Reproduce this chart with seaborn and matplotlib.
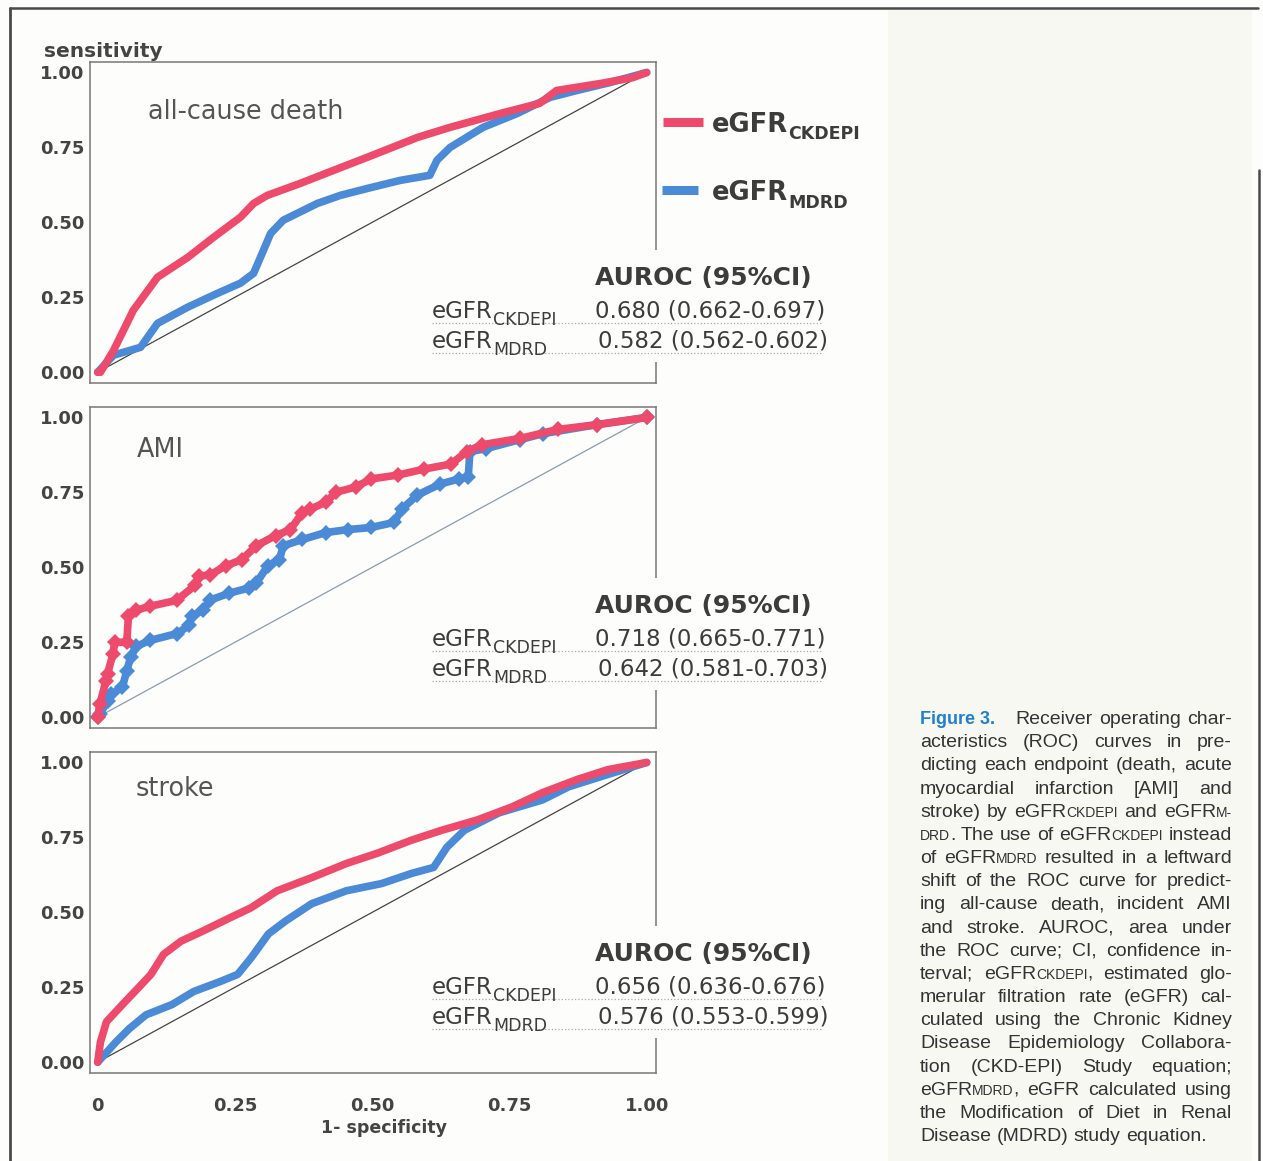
import re

import matplotlib
matplotlib.use("Agg")
import matplotlib.pyplot as plt
import pandas as pd
import seaborn as sns
from matplotlib.lines import Line2D
from matplotlib.patches import Rectangle

W, H = 1263, 1161

RED = "#ee4a6b"
BLUE = "#4a8ad6"
INK = "#3c3c3c"
PAPER = "#fdfdfb"
CREAM = "#f8f8f2"

PANELS = ["all-cause death", "AMI", "stroke"]
TICKS = [0, 0.25, 0.50, 0.75, 1.00]
Y_LABELS = ["0.00", "0.25", "0.50", "0.75", "1.00"]
X_LABELS = ["0", "0.25", "0.50", "0.75", "1.00"]

AUROC_CKDEPI = ["0.680 (0.662-0.697)", "0.718 (0.665-0.771)", "0.656 (0.636-0.676)"]
AUROC_MDRD = ["0.582 (0.562-0.602)", "0.642 (0.581-0.703)", "0.576 (0.553-0.599)"]

# ROC points (1 - specificity, sensitivity)
death_ckd_x = [0, .005, .029, .065, .109, .164, .211, .26, .284, .309, .369, .429, .491,
               .582, .642, .733, .805, .836, .915, .975, 1.0]
death_ckd_y = [0, 0, .073, .207, .317, .383, .45, .517, .563, .59, .63, .673, .717,
               .783, .817, .863, .897, .94, .963, .983, 1.0]
death_mdrd_x = [0, .029, .078, .109, .164, .218, .26, .284, .302, .315, .338, .4, .442,
                .491, .551, .605, .618, .642, .702, .764, .824, .873, .93, 1.0]
death_mdrd_y = [0, .057, .083, .163, .217, .263, .297, .33, .407, .463, .507, .563, .59,
                .613, .64, .657, .707, .75, .817, .863, .917, .94, .965, 1.0]

ami_ckd_x = [0, .004, .015, .018, .028, .031, .053, .056, .07, .095, .144, .178, .185,
             .205, .233, .262, .289, .324, .351, .373, .387, .415, .435, .47, .498, .547,
             .595, .644, .672, .7, .769, .838, .909, 1.0]
ami_ckd_y = [0, .044, .121, .145, .212, .25, .25, .337, .357, .37, .39, .441, .471,
             .475, .505, .525, .572, .606, .626, .683, .694, .717, .751, .768, .795, .808,
             .828, .845, .886, .909, .93, .96, .976, 1.0]
ami_mdrd_x = [0, .004, .018, .025, .045, .053, .06, .07, .095, .144, .167, .171, .192,
              .205, .24, .275, .289, .31, .331, .338, .373, .415, .456, .498, .54, .554,
              .582, .624, .658, .675, .678, .707, .769, .811, .909, 1.0]
ami_mdrd_y = [0, .01, .054, .077, .1, .155, .2, .236, .256, .279, .306, .337, .357,
              .391, .414, .431, .448, .505, .525, .572, .593, .616, .626, .633, .65, .694,
              .741, .778, .795, .801, .886, .896, .926, .946, .976, 1.0]

stroke_ckd_x = [0, .005, .016, .049, .073, .097, .12, .152, .192, .24, .279, .327, .39,
                .453, .509, .572, .627, .691, .755, .81, .873, .929, 1.0]
stroke_ckd_y = [0, .067, .135, .2, .246, .293, .36, .404, .438, .481, .515, .572, .616,
                .663, .697, .741, .774, .808, .852, .899, .943, .976, 1.0]
stroke_mdrd_x = [0, .033, .057, .088, .135, .175, .223, .255, .279, .311, .342, .39, .453,
                 .517, .572, .612, .636, .668, .731, .81, .858, .929, 1.0]
stroke_mdrd_y = [0, .067, .111, .158, .192, .236, .269, .293, .347, .428, .471, .529, .572,
                 .596, .63, .65, .717, .774, .832, .875, .919, .96, 1.0]

CURVES = [
    (death_ckd_x, death_ckd_y, death_mdrd_x, death_mdrd_y),
    (ami_ckd_x, ami_ckd_y, ami_mdrd_x, ami_mdrd_y),
    (stroke_ckd_x, stroke_ckd_y, stroke_mdrd_x, stroke_mdrd_y),
]

CAPTION = [
    "Receiver operating char-",
    "acteristics (ROC) curves in pre-",
    "dicting each endpoint (death, acute",
    "myocardial infarction [AMI] and",
    "stroke) by eGFR{CKDEPI} and eGFR{M-}",
    "{DRD}. The use of eGFR{CKDEPI} instead",
    "of eGFR{MDRD} resulted in a leftward",
    "shift of the ROC curve for predict-",
    "ing all-cause death, incident AMI",
    "and stroke. AUROC, area under",
    "the ROC curve; CI, confidence in-",
    "terval; eGFR{CKDEPI}, estimated glo-",
    "merular filtration rate (eGFR) cal-",
    "culated using the Chronic Kidney",
    "Disease Epidemiology Collabora-",
    "tion (CKD-EPI) Study equation;",
    "eGFR{MDRD}, eGFR calculated using",
    "the Modification of Diet in Renal",
    "Disease (MDRD) study equation.",
]

sns.set_style("white")
plt.rcParams["font.family"] = ["DejaVu Sans"]

fig = plt.figure(figsize=(W / 100, H / 100), dpi=100, facecolor=PAPER)
r = fig.canvas.get_renderer()


def fy(y):
    return 1 - y / H


def put(x, y, s, **kw):
    kw.setdefault("va", "baseline")
    return fig.text(x / W, fy(y), s, **kw)


def sub_label(x, y, main, sub, size, subsize, drop, weight):
    t = put(x, y, main, fontsize=size, weight=weight, color=INK)
    w = t.get_window_extent(r).width
    put(x + w, y + drop, sub, fontsize=subsize, weight=weight, color=INK)


# page furniture
fig.add_artist(Rectangle((888 / W, 0), 364 / W, fy(10), transform=fig.transFigure,
                         color=CREAM, lw=0, zorder=-1))
fig.add_artist(Line2D([10 / W, 10 / W], [fy(8), 0], transform=fig.transFigure, color="#4a4a4a", lw=2))
fig.add_artist(Line2D([10 / W, 1258 / W], [fy(8), fy(8)], transform=fig.transFigure, color="#4a4a4a", lw=1.8))
fig.add_artist(Line2D([1259 / W, 1259 / W], [fy(170), 0], transform=fig.transFigure, color="#4a4a4a", lw=1.8))

tops = [62, 407, 752]
offsets = [0, 328, 676]
label_pos = [(0.102, 0.844), (0.083, 0.866), (0.08, 0.885)]
for i, top in enumerate(tops):
    ax = fig.add_axes([90 / W, fy(top + 321), 566 / W, 321 / H])
    ax.set_facecolor(PAPER)
    ckd_x, ckd_y, mdrd_x, mdrd_y = CURVES[i]
    df = pd.DataFrame({
        "fpr": mdrd_x + ckd_x,
        "tpr": mdrd_y + ckd_y,
        "score": ["MDRD"] * len(mdrd_x) + ["CKDEPI"] * len(ckd_x),
    })
    diag = "#8a9bb0" if i == 1 else "#444444"
    ax.plot([0, 1], [0, 1], color=diag, lw=0.9, zorder=1)
    marks = dict(marker="D", markersize=8, markeredgewidth=0) if i == 1 else {}
    sns.lineplot(df, x="fpr", y="tpr", hue="score", hue_order=["MDRD", "CKDEPI"],
                 palette={"MDRD": BLUE, "CKDEPI": RED}, sort=False, estimator=None,
                 lw=5.5, legend=False, ax=ax, zorder=2, **marks)
    ax.set_xlim(-0.014, 1.017)
    ax.set_ylim(-0.036, 1.035)
    ax.set_xlabel("")
    ax.set_ylabel("")
    ax.set_yticks(TICKS, Y_LABELS)
    ax.set_xticks(TICKS, X_LABELS if i == 2 else [""] * 5)
    ax.tick_params(axis="both", direction="out", length=3, width=0.8, color="#666666",
                   labelsize=13, labelcolor="#444444")
    ax.tick_params(axis="y", pad=1)
    ax.tick_params(axis="x", pad=14)
    for lab in ax.get_xticklabels() + ax.get_yticklabels():
        lab.set_fontweight("bold")
    for sp in ax.spines.values():
        sp.set_color("#777777")
        sp.set_linewidth(1.1)
        sp.set_visible(True)
    lx, ly = label_pos[i]
    ax.text(lx, ly, PANELS[i], transform=ax.transAxes,
            fontsize=18.4, color="#555555", va="center")

    off = offsets[i]
    # white patch that breaks the right frame behind the AUROC table
    fig.add_artist(Rectangle((425 / W, fy(362 + off)), 410 / W, 112 / H,
                             transform=fig.transFigure, color=PAPER, lw=0, zorder=1.5))
    put(595, 285 + off, "AUROC (95%CI)", fontsize=18, weight="bold", color=INK, zorder=3)
    sub_label(432, 318 + off, "eGFR", "CKDEPI", 16.5, 12.5, 7, "normal")
    sub_label(432, 348 + off, "eGFR", "MDRD", 16.5, 12.5, 7, "normal")
    put(595, 318 + off, AUROC_CKDEPI[i], fontsize=16.5, color=INK)
    put(598, 348 + off, AUROC_MDRD[i], fontsize=16.5, color=INK)
    for yy in (323 + off, 353 + off):
        fig.add_artist(Line2D([432 / W, 822 / W], [fy(yy), fy(yy)], transform=fig.transFigure,
                              color="#aaaaaa", lw=0.9, ls=":", zorder=3))

put(44, 57, "sensitivity", fontsize=14.5, weight="bold", color="#444444")
fig.text(384 / W, fy(1133), "1- specificity", fontsize=12.5, weight="bold", color="#444444",
         ha="center", va="baseline")

# legend
fig.add_artist(Line2D([663 / W, 703 / W], [fy(122), fy(122)], transform=fig.transFigure,
                      color=RED, lw=6.5, solid_capstyle="butt"))
fig.add_artist(Line2D([662 / W, 698 / W], [fy(190), fy(190)], transform=fig.transFigure,
                      color=BLUE, lw=6.5, solid_capstyle="butt"))
sub_label(712, 132, "eGFR", "CKDEPI", 18.5, 12.5, 7, "bold")
sub_label(712, 200, "eGFR", "MDRD", 18.5, 12.5, 8, "bold")

# caption, justified line by line
CAP_FONT = "Liberation Sans"
CAP_SIZE = 14
CAP_SMALL = 10
CAP_INK = "#333333"


def parts(word):
    out = []
    for chunk in re.split(r"(\{[^}]*\})", word):
        if chunk:
            out.append((chunk[1:-1], True) if chunk.startswith("{") else (chunk, False))
    return out


def place_line(text, y, x0, x1, justify):
    words = []
    for w in text.split():
        arts, dx = [], 0.0
        for s, small in parts(w):
            t = put(0, y, s, fontsize=CAP_SMALL if small else CAP_SIZE, family=CAP_FONT,
                    color=CAP_INK)
            arts.append((t, dx))
            dx += t.get_window_extent(r).width
        words.append((arts, dx))
    total = sum(w for _, w in words)
    if justify and len(words) > 1:
        space = (x1 - x0 - total) / (len(words) - 1)
    else:
        space = CAP_SIZE * 100 / 72 * 0.278
    x = x0
    for arts, w in words:
        for t, dx in arts:
            t.set_x((x + dx) / W)
        x += w + space


put(920, 724, "Figure 3.", fontsize=13, weight="bold", family=CAP_FONT, color="#1f7fd1")
for k, line in enumerate(CAPTION):
    y = 724 + k * 23.17
    x0 = 1015 if k == 0 else 920
    place_line(line, y, x0, 1232, k < len(CAPTION) - 1)

fig.savefig("out.png", dpi=100, facecolor=PAPER)
